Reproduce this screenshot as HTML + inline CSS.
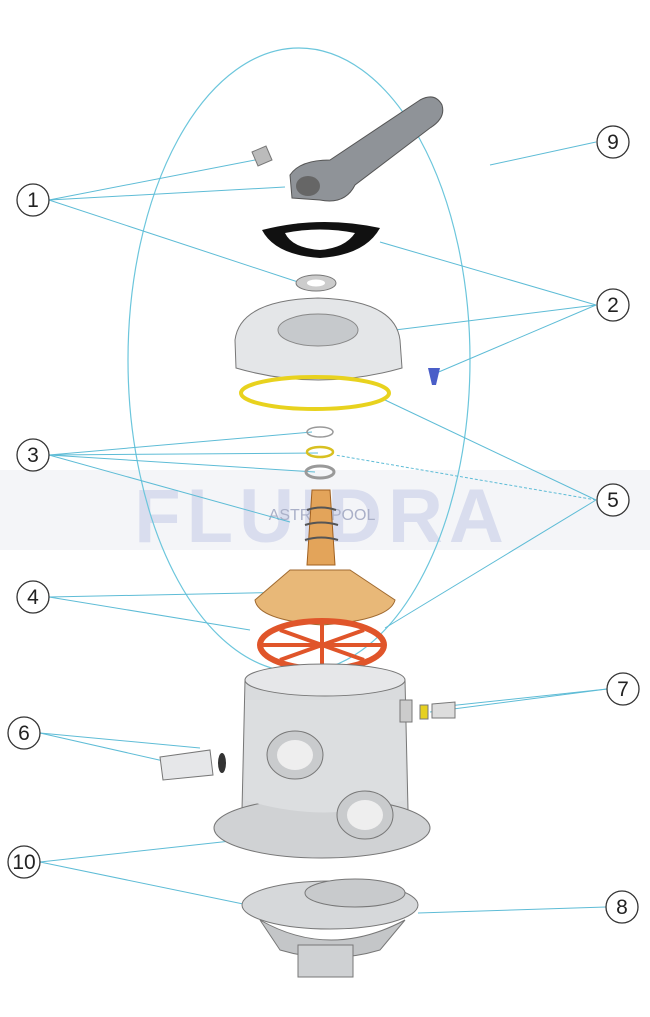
<!DOCTYPE html>
<html><head><meta charset="utf-8"><style>
html,body{margin:0;padding:0;background:#fff;}
svg{display:block;}
text{font-family:"Liberation Sans",sans-serif;}
</style></head><body>
<svg width="650" height="1017" viewBox="0 0 650 1017" xmlns="http://www.w3.org/2000/svg">
<rect x="0" y="470" width="650" height="80" fill="#f4f5f8"/>
<text x="322" y="542" text-anchor="middle" font-size="76" font-weight="bold" fill="#d9ddee" letter-spacing="6">FLUIDRA</text>
<text x="322" y="520" text-anchor="middle" font-size="16" fill="#aab0c8">ASTRALPOOL</text>
<ellipse cx="299" cy="360" rx="171" ry="312" fill="none" stroke="#6cc6dc" stroke-width="1.2"/>
<g stroke="#5ebcd6" stroke-width="1" fill="none">
<line x1="49" y1="200" x2="255" y2="160"/><line x1="49" y1="200" x2="285" y2="187"/><line x1="49" y1="200" x2="298" y2="282"/>
<line x1="596" y1="142" x2="490" y2="165"/>
<line x1="596" y1="305" x2="380" y2="242"/><line x1="596" y1="305" x2="395" y2="330"/><line x1="596" y1="305" x2="434" y2="374"/>
<line x1="49" y1="455" x2="312" y2="432"/><line x1="49" y1="455" x2="318" y2="453"/><line x1="49" y1="455" x2="315" y2="472"/><line x1="49" y1="455" x2="290" y2="522"/>
<line x1="596" y1="500" x2="385" y2="400"/><line x1="596" y1="500" x2="335" y2="455" stroke-dasharray="3,2"/><line x1="596" y1="500" x2="385" y2="628"/>
<line x1="49" y1="597" x2="300" y2="592"/><line x1="49" y1="597" x2="250" y2="630"/>
<line x1="607" y1="689" x2="430" y2="712"/><line x1="607" y1="689" x2="448" y2="706"/>
<line x1="40" y1="733" x2="200" y2="748"/><line x1="40" y1="733" x2="168" y2="762"/>
<line x1="40" y1="862" x2="240" y2="840"/><line x1="40" y1="862" x2="248" y2="905"/>
<line x1="606" y1="907" x2="418" y2="913"/>
</g>
<g fill="#fff" stroke="#333" stroke-width="1.3">
<circle cx="33" cy="200" r="16"/><circle cx="613" cy="142" r="16"/><circle cx="613" cy="305" r="16"/>
<circle cx="33" cy="455" r="16"/><circle cx="613" cy="500" r="16"/><circle cx="33" cy="597" r="16"/>
<circle cx="623" cy="689" r="16"/><circle cx="24" cy="733" r="16"/><circle cx="24" cy="862" r="16"/><circle cx="622" cy="907" r="16"/>
</g>
<g font-size="21" text-anchor="middle" fill="#222">
<text x="33" y="207">1</text><text x="613" y="149">9</text><text x="613" y="312">2</text>
<text x="33" y="462">3</text><text x="613" y="507">5</text><text x="33" y="604">4</text>
<text x="623" y="696">7</text><text x="24" y="740">6</text><text x="24" y="869">10</text><text x="622" y="914">8</text>
</g>
<path d="M252 152 L266 146 L272 160 L258 166Z" fill="#bbb" stroke="#777"/>
<path d="M290 175 Q300 160 330 160 L420 100 Q435 92 442 105 Q446 118 430 128 L355 185 Q345 205 320 200 L292 198 Z" fill="#8f9398" stroke="#555"/>
<ellipse cx="308" cy="186" rx="12" ry="10" fill="#666"/>
<path d="M262 230 Q320 215 380 228 Q365 255 320 258 Q275 255 262 230Z" fill="#111"/>
<path d="M285 233 Q320 226 355 233 Q345 248 320 250 Q292 248 285 233Z" fill="#fff"/>
<ellipse cx="316" cy="283" rx="20" ry="8" fill="#ccc" stroke="#777"/><ellipse cx="316" cy="283" rx="9" ry="3.5" fill="#fff"/>
<path d="M235 340 Q240 300 318 298 Q395 300 400 340 L402 368 Q318 392 236 368Z" fill="#e4e6e8" stroke="#777"/>
<ellipse cx="318" cy="330" rx="40" ry="16" fill="#c6c9cc" stroke="#888"/>
<path d="M428 368 L440 368 L436 385 L432 385Z" fill="#4a5ec8"/>
<ellipse cx="315" cy="393" rx="74" ry="16" fill="none" stroke="#e8d21e" stroke-width="4"/>
<ellipse cx="320" cy="432" rx="13" ry="5" fill="none" stroke="#999" stroke-width="1.5"/>
<ellipse cx="320" cy="452" rx="13" ry="5" fill="none" stroke="#d8c020" stroke-width="2.5"/>
<ellipse cx="320" cy="472" rx="14" ry="6" fill="none" stroke="#999" stroke-width="3"/>
<path d="M312 490 L330 490 L335 565 L307 565Z" fill="#e3a45a" stroke="#a06020"/>
<path d="M307 510 Q321 505 336 510 M305 525 Q321 520 338 525 M305 540 Q321 535 338 540" stroke="#555" fill="none" stroke-width="2"/>
<path d="M290 570 L350 570 L395 600 Q390 620 322 625 Q258 620 255 600Z" fill="#e8b878" stroke="#a06a30"/>
<ellipse cx="322" cy="645" rx="62" ry="24" fill="none" stroke="#e0552a" stroke-width="6"/>
<path d="M262 645 L382 645 M322 622 L322 668 M280 630 L364 660 M364 630 L280 660" stroke="#e0552a" stroke-width="4"/>
<path d="M245 680 L405 680 L408 810 L242 810Z" fill="#d9dbdd" stroke="#777"/>
<ellipse cx="325" cy="680" rx="80" ry="16" fill="#e6e7e9" stroke="#777"/>
<ellipse cx="322" cy="828" rx="108" ry="30" fill="#d0d2d4" stroke="#777"/>
<path d="M245 700 L405 700 L405 800 Q325 825 245 800Z" fill="#dcdee0"/>
<ellipse cx="295" cy="755" rx="28" ry="24" fill="#c9cbcd" stroke="#777"/><ellipse cx="295" cy="755" rx="18" ry="15" fill="#eee"/>
<ellipse cx="365" cy="815" rx="28" ry="24" fill="#c9cbcd" stroke="#777"/><ellipse cx="365" cy="815" rx="18" ry="15" fill="#eee"/>
<rect x="400" y="700" width="12" height="22" fill="#ccc" stroke="#777"/>
<path d="M160 757 L210 750 L213 775 L163 780Z" fill="#e6e7e9" stroke="#777"/>
<ellipse cx="222" cy="763" rx="4" ry="10" fill="#333"/>
<rect x="420" y="705" width="8" height="14" fill="#e6d020" stroke="#777"/>
<path d="M432 704 L455 702 L455 718 L432 718Z" fill="#ddd" stroke="#777"/>
<ellipse cx="330" cy="905" rx="88" ry="24" fill="#d6d8da" stroke="#777"/>
<ellipse cx="355" cy="893" rx="50" ry="14" fill="#c8cacc" stroke="#777"/>
<path d="M260 920 Q330 960 405 920 L380 950 Q330 965 280 950Z" fill="#c4c6c8" stroke="#777"/>
<rect x="298" y="945" width="55" height="32" fill="#cfd1d3" stroke="#777"/>
</svg>
</body></html>
